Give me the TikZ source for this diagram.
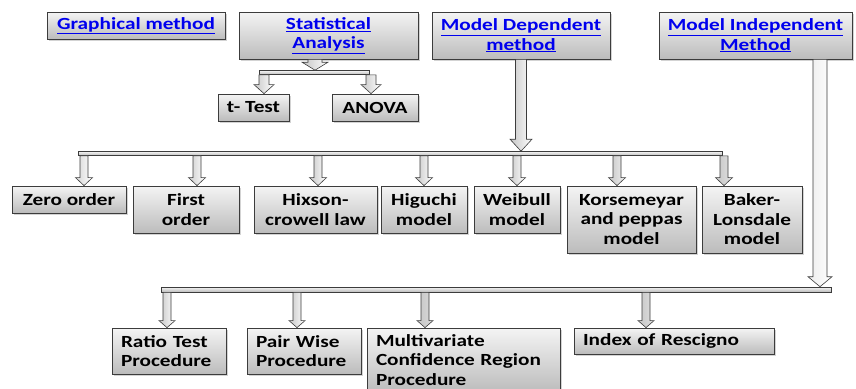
\documentclass[tikz,border=0pt]{standalone}
\usepackage{fontspec}
\newfontfamily\boxfont{Carlito}[FakeStretch=1.25]
\usetikzlibrary{calc, shadows}
\definecolor{darkgray}{RGB}{60,60,60}
\definecolor{boxtop}{RGB}{244,244,244}
\definecolor{boxbottom}{RGB}{188,188,188}
\definecolor{linkblue}{RGB}{0,0,238}
\tikzset{
  box/.style={rectangle, draw=darkgray, line width=0.8pt,
              top color=boxtop, bottom color=boxbottom, align=center, inner sep=0pt,
              font=\boxfont\bfseries\fontsize{17}{19.5}\selectfont,
              drop shadow={shadow xshift=2pt, shadow yshift=-2pt, opacity=0.35}},
  linkbox/.style={box, text=linkblue},
  leftbox/.style={box, align=left, inner xsep=9pt},
  bar/.style={rectangle, draw=darkgray, line width=0.6pt,
              top color=boxtop, bottom color=boxbottom, inner sep=0pt, minimum height=4pt},
  arrow x/.store in=\arrowx, shaft width/.store in=\shaftwidth,
  head width/.store in=\headwidth, head length/.store in=\headlength,
  arrow x=0pt, shaft width=10pt, head width=20pt, head length=9pt,
  blockarrow/.style={draw=darkgray, line width=0.6pt, left color=gray!45, right color=white,
    to path={let \p1=([xshift=\arrowx]\tikztostart), \p2=(\tikztotarget) in
      ({\x1-\shaftwidth/2},\y1) -- ({\x1-\shaftwidth/2},{\y2+\headlength})
      -- ({\x1-\headwidth/2},{\y2+\headlength}) -- (\x1,\y2)
      -- ({\x1+\headwidth/2},{\y2+\headlength}) -- ({\x1+\shaftwidth/2},{\y2+\headlength})
      -- ({\x1+\shaftwidth/2},\y1) -- cycle}},
}
\begin{document}
\begin{tikzpicture}[x=1pt, y=-1pt]
  \useasboundingbox (0,0) rectangle (856,388);

  % Top row
  \node[linkbox, minimum width=178pt, minimum height=27pt] (graph) at (136,25.5)
    {\underline{Graphical method}};
  \node[linkbox, minimum width=179pt, minimum height=47pt] (stat) at (328.5,35.5)
    {\underline{Statistical}\\\underline{Analysis}};
  \node[linkbox, minimum width=178pt, minimum height=47pt] (dep) at (521,35.5)
    {\underline{Model Dependent}\\\underline{method}};
  \node[linkbox, minimum width=193pt, minimum height=47pt] (indep) at (755.5,35.5)
    {\underline{Model Independent}\\\underline{Method}};

  % Statistical analysis
  \node[box, minimum width=71pt, minimum height=27pt] (ttest) at (253.5,107.5) {t- Test};
  \node[box, minimum width=86pt, minimum height=27pt] (anova) at (375,107.5) {ANOVA};
  \node[bar, minimum width=110pt] (sbar) at (314,72.5) {};

  \draw[blockarrow, arrow x=-13.5pt, shaft width=14pt, head width=26pt, head length=8pt]
    (stat.south) to (sbar.north);
  \draw[blockarrow, arrow x=10.5pt] (ttest.north |- sbar.south) to (ttest.north);
  \draw[blockarrow, arrow x=-4pt] (anova.north |- sbar.south) to (anova.north);

  % Model dependent methods
  \node[box, minimum width=114pt, minimum height=27pt] (zero) at (69,199.5) {Zero order};
  \node[box, minimum width=106pt, minimum height=47pt] (first) at (186,209.5) {First\\order};
  \node[box, minimum width=123pt, minimum height=47pt] (hixson) at (315.5,209.5)
    {Hixson-\\crowell law};
  \node[box, minimum width=86pt, minimum height=47pt] (higuchi) at (424,209.5)
    {Higuchi\\model};
  \node[box, minimum width=86pt, minimum height=47pt] (weibull) at (517,209.5)
    {Weibull\\model};
  \node[box, minimum width=129pt, minimum height=67pt] (korse) at (631.5,219.5)
    {Korsemeyar\\and peppas\\model};
  \node[box, minimum width=100pt, minimum height=67pt] (baker) at (752,219.5)
    {Baker-\\Lonsdale\\model};
  \node[bar, minimum width=644pt] (dbar) at (400,153.5) {};

  \draw[blockarrow, shaft width=11pt, head width=22pt, head length=12pt]
    (dep.south) to (dbar.north);
  \tikzset{shaft width=8pt, head width=17pt, head length=8pt}
  \draw[blockarrow, arrow x=15pt] (zero.north |- dbar.south) to (zero.north);
  \draw[blockarrow, arrow x=11pt] (first.north |- dbar.south) to (first.north);
  \draw[blockarrow, arrow x=2.5pt] (hixson.north |- dbar.south) to (hixson.north);
  \draw[blockarrow] (higuchi.north |- dbar.south) to (higuchi.north);
  \draw[blockarrow] (weibull.north |- dbar.south) to (weibull.north);
  \draw[blockarrow, arrow x=-14.5pt] (korse.north |- dbar.south) to (korse.north);
  \draw[blockarrow, arrow x=-28pt] (baker.north |- dbar.south) to (baker.north);

  % Model independent methods
  \node[leftbox, text width=96pt, minimum height=46pt] (ratio) at (169,351)
    {Ratio Test\\Procedure};
  \node[leftbox, text width=96pt, minimum height=46pt] (pair) at (304,351)
    {Pair Wise\\Procedure};
  \node[leftbox, text width=175pt, minimum height=64pt] (multi) at (463.5,360)
    {Multivariate\\Confidence Region\\Procedure};
  \node[leftbox, text width=182pt, minimum height=26pt] (rescigno) at (674,341)
    {Index of Rescigno};
  \node[bar, minimum width=670pt, minimum height=5pt] (ibar) at (496,289.5) {};

  \draw[blockarrow, arrow x=64.5pt, shaft width=14pt, head width=24pt, head length=10pt]
    (indep.south) to (ibar.north);
  \tikzset{shaft width=8pt, head width=16pt, head length=7pt}
  \draw[blockarrow, arrow x=-2pt] (ratio.north |- ibar.south) to (ratio.north);
  \draw[blockarrow, arrow x=-7pt] (pair.north |- ibar.south) to (pair.north);
  \draw[blockarrow, arrow x=-38.5pt] (multi.north |- ibar.south) to (multi.north);
  \draw[blockarrow, arrow x=-28pt] (rescigno.north |- ibar.south) to (rescigno.north);
\end{tikzpicture}
\end{document}
